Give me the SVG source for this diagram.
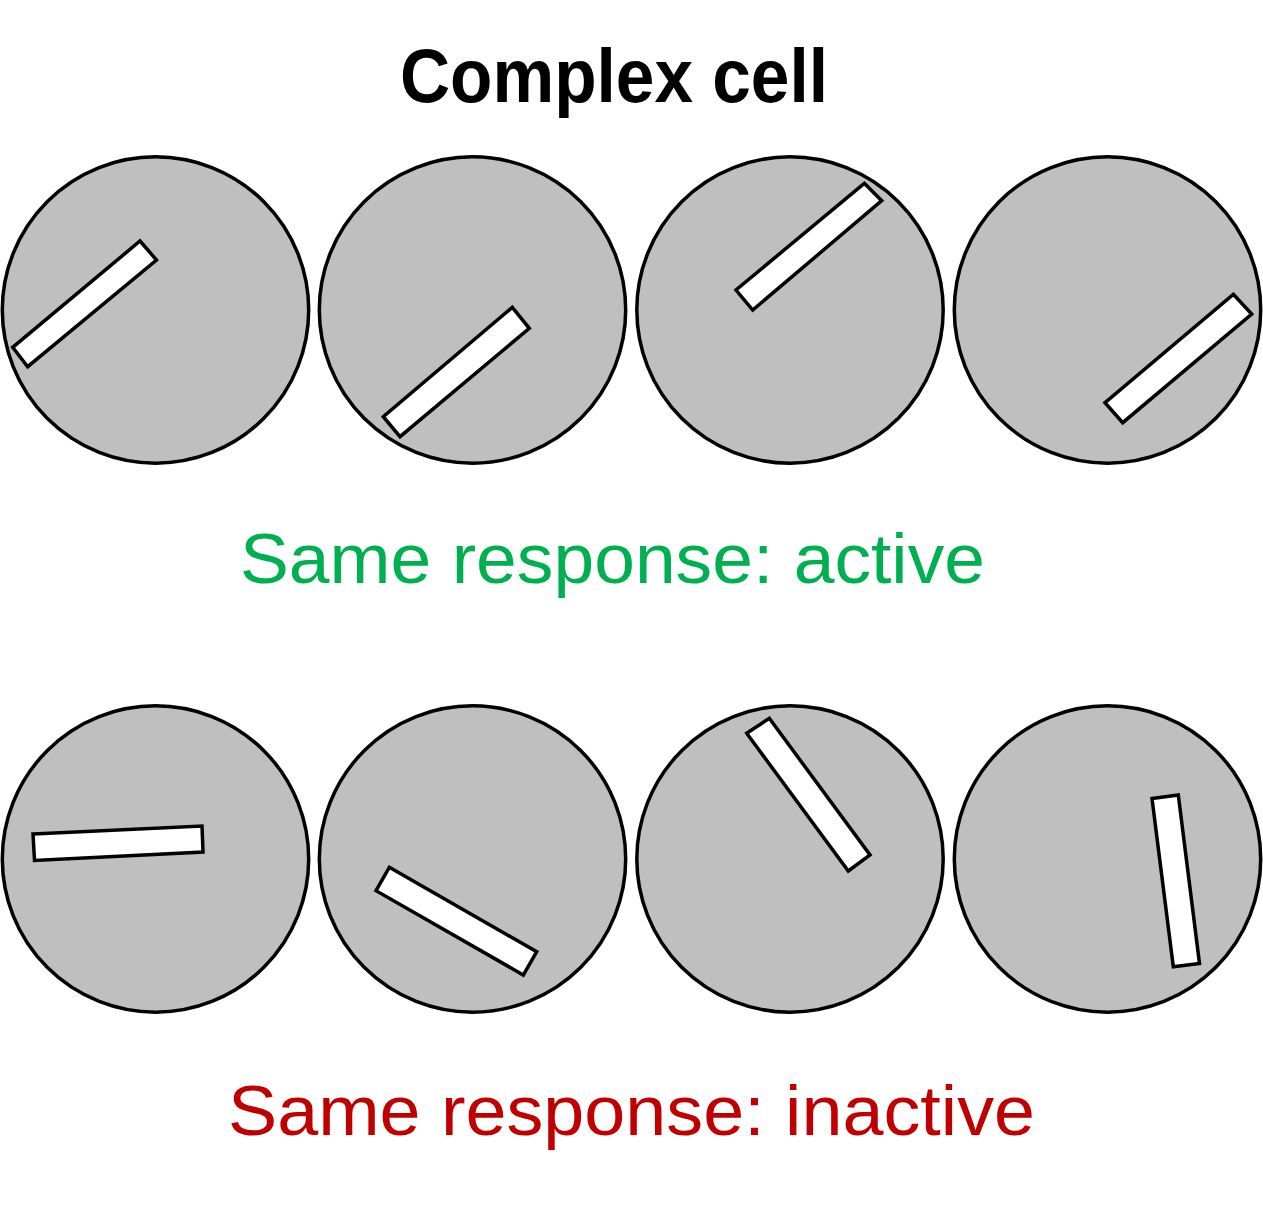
<svg xmlns="http://www.w3.org/2000/svg" width="1263" height="1208" viewBox="0 0 1263 1208">
<style>
.field{fill:#bfbfbf;stroke:#000;stroke-width:3.5}
.bar{fill:#fff;stroke:#000;stroke-width:3.5;stroke-linejoin:miter}
.t{font-family:"Liberation Sans",Arial,sans-serif;text-anchor:start}
</style>
<rect width="1263" height="1208" fill="#fff"/>
<text class="t" x="400" y="102" font-size="76" font-weight="bold" textLength="428" lengthAdjust="spacingAndGlyphs">Complex cell</text>
<g id="c1"><circle class="field" cx="155.5" cy="310" r="153.2"/><polygon class="bar" points="140,241 156.5,260 27.7,366.7 12.7,347.3"/></g>
<g id="c2"><circle class="field" cx="472.5" cy="310" r="153.2"/><polygon class="bar" points="512.3,307.3 529.3,328.3 400,436.7 383.3,416.7"/></g>
<g id="c3"><circle class="field" cx="790" cy="310" r="153.2"/><polygon class="bar" points="864.3,183.3 881.7,200.7 752.7,310 736,290"/></g>
<g id="c4"><circle class="field" cx="1107.5" cy="310" r="153.2"/><polygon class="bar" points="1233.3,294.3 1251.7,314 1122.7,422.7 1105,402.7"/></g>
<text class="t" x="240" y="583" font-size="70" fill="#00b050" textLength="745" lengthAdjust="spacingAndGlyphs">Same response: active</text>
<g id="c5"><circle class="field" cx="155.5" cy="859" r="153.2"/><polygon class="bar" points="33,834 202,826 203,852 34.5,860.5"/></g>
<g id="c6"><circle class="field" cx="472.5" cy="859" r="153.2"/><polygon class="bar" points="389.3,867.3 536.7,951.7 523.3,975 376,890.7"/></g>
<g id="c7"><circle class="field" cx="790" cy="859" r="153.2"/><polygon class="bar" points="769.3,718.3 870,855 848.3,871 746.7,733.3"/></g>
<g id="c8"><circle class="field" cx="1107.5" cy="859" r="153.2"/><polygon class="bar" points="1152,798.5 1178.3,795 1199.5,963.5 1173.3,966.7"/></g>
<text class="t" x="228" y="1135" font-size="70" fill="#c00000" textLength="807" lengthAdjust="spacingAndGlyphs">Same response: inactive</text>
<g id="connectors"/>
</svg>
